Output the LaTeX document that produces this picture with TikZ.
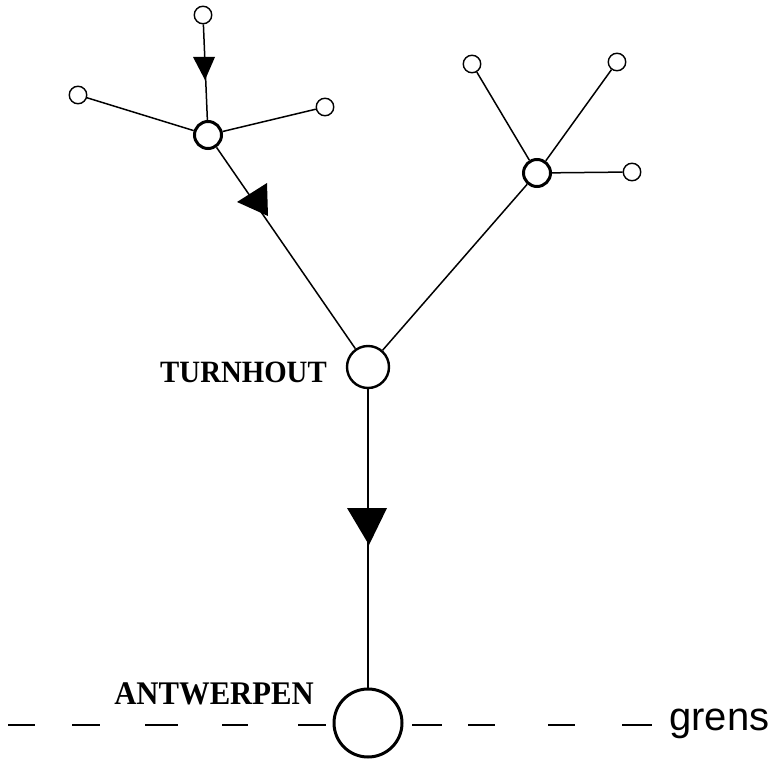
\documentclass[tikz,border=0pt]{standalone}
\usepackage{fontspec}
\newfontfamily\serifb{Liberation Serif}[FakeStretch=0.93]
\newfontfamily\sansf{Liberation Sans}
\begin{document}
\begin{tikzpicture}[x=1pt,y=-1pt,
  small/.style={circle,draw,line width=1.4pt,minimum size=17.5pt,inner sep=0pt},
  hub/.style={circle,draw,line width=3pt,minimum size=27pt,inner sep=0pt},
  town/.style={circle,draw,line width=2.4pt,minimum size=42pt,inner sep=0pt},
  city/.style={circle,draw,line width=3pt,minimum size=68pt,inner sep=0pt},
  edge/.style={line width=1.5pt},
  grens/.style={line width=1.5pt},
  tip/.style={fill=black},
  lab/.style={font=\serifb\bfseries\fontsize{31}{31}\selectfont,inner sep=0pt}]
\useasboundingbox (0,0) rectangle (776,762);
% nodes
\node[small] (a1) at (203,15) {};
\node[small] (a2) at (78,95) {};
\node[small] (a3) at (325,107) {};
\node[hub] (L) at (208,135) {};
\node[small] (b1) at (472,64) {};
\node[small] (b2) at (617,62) {};
\node[small] (b3) at (632,172) {};
\node[hub] (R) at (537,173) {};
\node[town] (T) at (368,367) {};
\node[city] (A) at (368,723) {};
% labels
\node[lab,anchor=base east] (tl) at (327,382) {TURNHOUT};
\node[lab,anchor=base east,font=\serifb\bfseries\fontsize{33}{33}\selectfont] (al) at (314,704) {ANTWERPEN};
\node[anchor=base west,inner sep=0pt,font=\sansf\fontsize{40}{40}\selectfont] (gl) at (669,730) {grens};
% edges
\draw[edge] (a1) -- (L);
\draw[edge] (a2) -- (L);
\draw[edge] (a3) -- (L);
\draw[edge] (L) -- (T);
\draw[edge] (R) -- (T);
\draw[edge] (R) -- (b1);
\draw[edge] (R) -- (b2);
\draw[edge] (R) -- (b3);
\draw[edge] (T) -- (A);
% arrowheads
\fill[tip] (193,57) -- (215,57) -- (205,80) -- cycle;
\fill[tip] (237,202) -- (267,183) -- (268,216) -- cycle;
\fill[tip] (347,508) -- (387,508) -- (369,545) -- cycle;
% border line
\foreach \xa/\xb in {8/35,72/100,145/178,222/248,298/326,412/442,468/495,548/575,622/652}
  \draw[grens] (\xa,725) -- (\xb,725);
\end{tikzpicture}
\end{document}
